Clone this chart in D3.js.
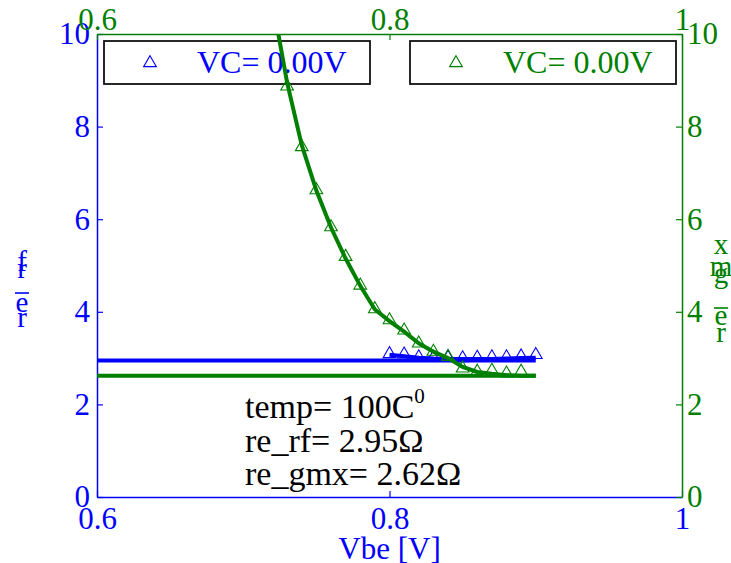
<!DOCTYPE html>
<html><head><meta charset="utf-8">
<script src="https://cdn.jsdelivr.net/npm/d3@7"></script>
<style>
html,body{margin:0;padding:0;background:#fff;}
svg{display:block;}
text{font-family:"Liberation Serif","Times New Roman",serif;}
</style></head>
<body>
<script>
// ---------- data ----------
const xTicks = [0.6, 0.8, 1];
const yTicks = [0, 2, 4, 6, 8, 10];
const legendLabels = ["VC= 0.00V", "VC= 0.00V"];
// re_rf (blue, left axis)
const rfX = [0.80,0.81,0.82,0.83,0.84,0.85,0.86,0.87,0.88,0.89,0.90];
const rfY = [3.09,3.08,3.02,3.01,3.01,3.00,3.01,3.02,3.02,3.04,3.07];
const rfFitY = [3.07,3.04,3.01,2.99,2.98,2.98,2.98,2.98,2.99,3.00,3.01];
const rfConst = 2.95;
// re_gmx (green, right axis)
const gmX = [0.73,0.74,0.75,0.76,0.77,0.78,0.79,0.80,0.81,0.82,0.83,0.84,0.85,0.86,0.87,0.88,0.89];
const gmY = [8.87,7.56,6.63,5.83,5.19,4.57,4.06,3.82,3.60,3.32,3.14,3.03,2.78,2.71,2.73,2.67,2.71];
const gmFitX = [0.72,0.73,0.74,0.75,0.76,0.77,0.78,0.79,0.80,0.81,0.82,0.83,0.84,0.85,0.86,0.87,0.88,0.89,0.90];
const gmFitY = [10.7,8.95,7.6,6.62,5.82,5.15,4.56,4.05,3.80,3.57,3.32,3.14,3.00,2.81,2.70,2.66,2.63,2.62,2.62];
const gmConst = 2.62;
const constRange = [0.6, 0.9];
const notes = ["temp= 100C", "re_rf= 2.95\u03A9", "re_gmx= 2.62\u03A9"];

// ---------- layout ----------
const W = 731, H = 563;
const BLUE = "#0000ff", GREEN = "#008000";
const x = d3.scaleLinear().domain([0.6, 1]).range([97, 682]);
const yL = d3.scaleLinear().domain([0, 10]).range([497, 34]);
const yR = d3.scaleLinear().domain([0, 10]).range([497, 34]);

const svg = d3.select("body").append("svg").attr("width", W).attr("height", H);
svg.append("defs").append("clipPath").attr("id", "clip")
  .append("rect").attr("x", 97).attr("y", 34).attr("width", 585).attr("height", 463);

const FS = 31;
function styleAxis(g, color) {
  g.attr("font-family", '"Liberation Serif",serif');
  g.select(".domain").attr("stroke", color).attr("stroke-width", 1.5);
  g.selectAll(".tick line").attr("stroke", color).attr("stroke-width", 1.2);
  g.selectAll(".tick text").attr("fill", color).style("font-size", FS + "px")
    .style("font-family", '"Liberation Serif",serif');
}
const fmt = d => String(d);
svg.append("g").attr("transform", "translate(0,497)")
  .call(d3.axisBottom(x).tickValues(xTicks).tickFormat(fmt).tickSize(-6).tickPadding(10).tickSizeOuter(0))
  .call(g => styleAxis(g, BLUE));
svg.append("g").attr("transform", "translate(97,0)")
  .call(d3.axisLeft(yL).tickValues(yTicks).tickFormat(fmt).tickSize(-6).tickPadding(7).tickSizeOuter(0))
  .call(g => styleAxis(g, BLUE));
svg.append("g").attr("transform", "translate(0,34)")
  .call(d3.axisTop(x).tickValues(xTicks).tickFormat(fmt).tickSize(-6).tickPadding(4).tickSizeOuter(0))
  .call(g => styleAxis(g, GREEN));
svg.append("g").attr("transform", "translate(682,0)")
  .call(d3.axisRight(yR).tickValues(yTicks).tickFormat(fmt).tickSize(-6).tickPadding(5).tickSizeOuter(0))
  .call(g => styleAxis(g, GREEN));

// x label
svg.append("text").attr("x", x(0.8)).attr("y", 559).attr("text-anchor", "middle")
  .attr("fill", BLUE).style("font-size", "31px").text("Vbe [V]");

// stacked y labels (characters drawn upright, bottom-up)
function stacked(chars, cx, color) {
  chars.forEach(c => {
    if (c.ch === "_") {
      svg.append("line").attr("x1", cx - 7).attr("x2", cx + 7).attr("y1", c.y).attr("y2", c.y)
        .attr("stroke", color).attr("stroke-width", 1.6);
    } else {
      svg.append("text").attr("x", cx).attr("y", c.y).attr("text-anchor", "middle")
        .attr("fill", color).style("font-size", "29px").text(c.ch);
    }
  });
}
stacked([{ch:"r",y:327},{ch:"e",y:312},{ch:"_",y:293},{ch:"r",y:278},{ch:"f",y:271}], 22, BLUE);
stacked([{ch:"r",y:342},{ch:"e",y:325},{ch:"_",y:308},{ch:"g",y:283},{ch:"m",y:276},{ch:"x",y:254}], 721, GREEN);

// legends
function legend(x0, label, color) {
  const g = svg.append("g");
  g.append("rect").attr("x", x0).attr("y", 41).attr("width", 266).attr("height", 43)
    .attr("fill", "#fff").attr("stroke", "#111").attr("stroke-width", 1.8);
  g.append("path").attr("d", d3.symbol(d3.symbolTriangle, 70)())
    .attr("transform", `translate(${x0 + 46},63)`)
    .attr("fill", "none").attr("stroke", color).attr("stroke-width", 1.1);
  g.append("text").attr("x", x0 + 93).attr("y", 73).attr("fill", color)
    .style("font-size", "32px").text(label);
}
legend(104, legendLabels[0], BLUE);
legend(410, legendLabels[1], GREEN);

// data
const plot = svg.append("g").attr("clip-path", "url(#clip)");
const lineL = d3.line().x(d => x(d[0])).y(d => yL(d[1]));
const lineR = d3.line().x(d => x(d[0])).y(d => yR(d[1]));

plot.append("path").attr("d", lineL(constRange.map(v => [v, rfConst])))
  .attr("stroke", BLUE).attr("stroke-width", 4).attr("fill", "none");
plot.append("path").attr("d", lineR(constRange.map(v => [v, gmConst])))
  .attr("stroke", GREEN).attr("stroke-width", 4).attr("fill", "none");
plot.append("path").attr("d", lineL(rfX.map((v, i) => [v, rfFitY[i]])))
  .attr("stroke", BLUE).attr("stroke-width", 4).attr("fill", "none");
plot.selectAll(".rf").data(rfX).enter().append("path")
  .attr("d", d3.symbol(d3.symbolTriangle, 70)())
  .attr("transform", (d, i) => `translate(${x(d)},${yL(rfY[i])})`)
  .attr("fill", "none").attr("stroke", BLUE).attr("stroke-width", 1.1);
plot.append("path").attr("d", lineR(gmFitX.map((v, i) => [v, gmFitY[i]])))
  .attr("stroke", GREEN).attr("stroke-width", 4).attr("fill", "none");
plot.selectAll(".gm").data(gmX).enter().append("path")
  .attr("d", d3.symbol(d3.symbolTriangle, 70)())
  .attr("transform", (d, i) => `translate(${x(d)},${yR(gmY[i])})`)
  .attr("fill", "none").attr("stroke", GREEN).attr("stroke-width", 1.1);

// notes
const baselines = [418, 452, 485];
notes.forEach((t, i) => {
  const tx = svg.append("text").attr("x", 245).attr("y", baselines[i]).attr("fill", "#000")
    .style("font-size", "34px").text(t);
  if (i === 0) tx.append("tspan").attr("dy", -15).style("font-size", "21px").text("0");
});
</script>
</body></html>
